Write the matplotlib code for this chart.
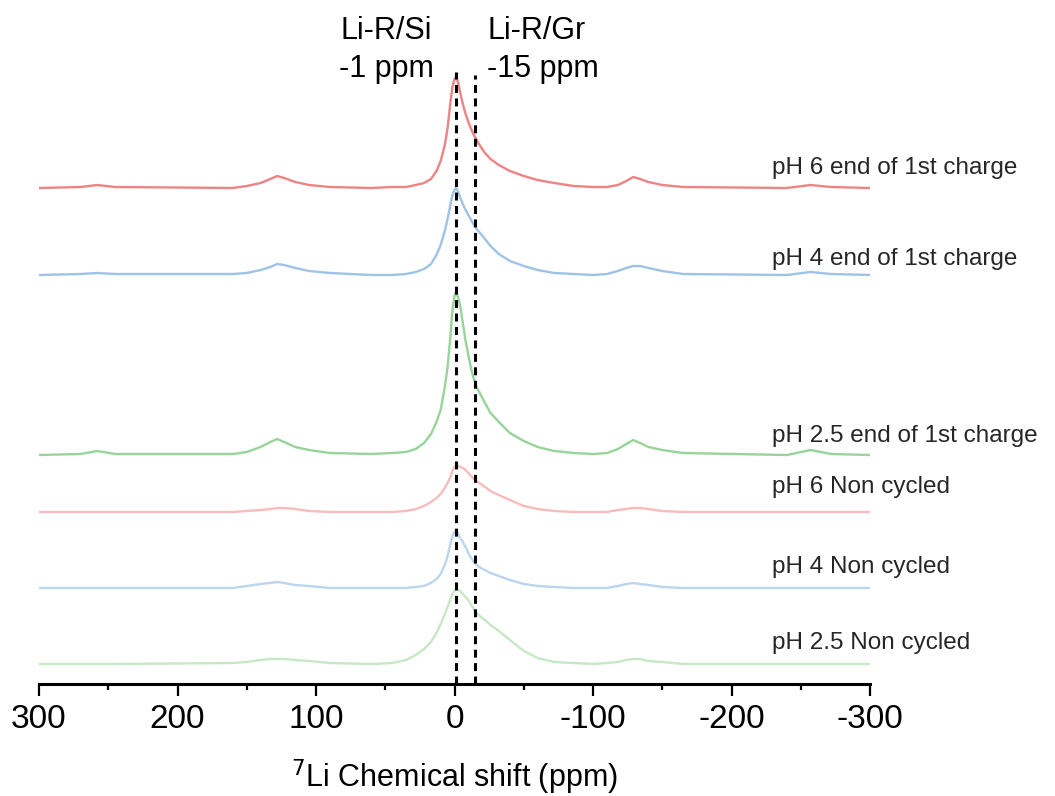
import numpy as np
import matplotlib.pyplot as plt

# ---- data (intensity in arbitrary units above each baseline) ----
ppm = [300, 270, 258, 245, 160, 150, 140, 133, 128, 123, 115, 105, 90,
       60, 45, 35, 28, 22, 17, 13, 10, 7, 5, 3, 1.5, 0,
       -1, -2.5, -4, -6, -8, -10, -12, -14, -16, -19, -22, -26, -32, -40, -50, -60, -72, -86,
       -100, -110, -118, -124, -129, -134, -140, -150, -165, -240, -257, -272, -300]

ph6_charge = [0, 1, 3, 1, 0, 2, 5, 9, 12, 10, 6, 3, 1,
              0, 1, 1, 3, 5, 9, 17, 27, 43, 60, 85, 101, 109,
              111, 106, 96, 84, 74, 66, 59, 53, 48, 41, 35, 29, 23, 17, 12, 8, 5, 2,
              1, 1, 3, 7, 11, 9, 6, 3, 1, 0, 3, 1, 0]
ph4_charge = [0, 1, 2, 1, 1, 2, 5, 8, 11, 10, 7, 4, 2,
              0, 0, 1, 3, 6, 11, 20, 30, 44, 56, 70, 80, 85,
              87, 84, 78, 71, 65, 60, 55, 50, 46, 41, 36, 29, 21, 14, 9, 5, 2, 1,
              0, 1, 4, 7, 9, 9, 7, 4, 1, 0, 3, 1, 0]
ph25_charge = [0, 1, 4, 1, 1, 3, 8, 13, 16, 13, 8, 5, 2,
               1, 2, 3, 6, 12, 21, 33, 45, 68, 88, 118, 145, 159,
               163, 158, 150, 132, 114, 100, 86, 76, 68, 60, 52, 42, 33, 22, 14, 8, 4, 2,
               1, 2, 6, 11, 15, 12, 8, 5, 2, 0, 5, 1, 0]
ph6_pristine = [0, 0, 0, 0, 0, 1, 2, 3, 4, 4, 3, 1, 0,
                0, 0, 1, 3, 6, 10, 14, 18, 24, 29, 35, 41, 45,
                46, 46, 45, 44, 42, 39, 36, 33, 31, 28, 25, 21, 17, 12, 6, 3, 1, 0,
                0, 0, 2, 3, 4, 4, 3, 1, 0, 0, 0, 0, 0]
ph4_pristine = [0, 0, 0, 0, 0, 2, 4, 5, 6, 5, 3, 2, 0,
                0, 0, 0, 1, 2, 5, 9, 14, 23, 32, 44, 52, 56,
                58, 55, 50, 46, 41, 35, 30, 26, 23, 20, 18, 15, 12, 8, 4, 2, 1, 0,
                0, 0, 2, 4, 5, 4, 3, 1, 0, 0, 0, 0, 0]
ph25_pristine = [0, 0, 0, 0, 1, 2, 4, 5, 5, 5, 4, 3, 1,
                 0, 1, 4, 9, 15, 22, 31, 40, 50, 57, 65, 70, 73,
                 75, 74, 73, 70, 67, 64, 59, 55, 51, 47, 44, 39, 33, 24, 13, 6, 2, 1,
                 0, 1, 2, 4, 5, 5, 3, 2, 0, 0, 0, 0, 0]

spectra = [ph6_charge, ph4_charge, ph25_charge, ph6_pristine, ph4_pristine, ph25_pristine]
offsets = [496, 409, 229, 172, 96, 20]
labels = ['pH 6 end of 1st charge', 'pH 4 end of 1st charge', 'pH 2.5 end of 1st charge',
          'pH 6 Non cycled', 'pH 4 Non cycled', 'pH 2.5 Non cycled']
colors = ['#ef8383', '#9fc3e6', '#98d49a', '#f8bcbc', '#bcd5ee', '#c6e8c4']
label_y = [174, 265, 442, 493, 573, 649]   # baseline of each label, px from top

ref_ppm = [-1, -15]
ref_top = [612, 609]

plt.rcParams['font.family'] = ['Liberation Sans', 'DejaVu Sans']
plt.rcParams['axes.unicode_minus'] = False

W, H = 1055, 796
fig = plt.figure(figsize=(W / 100, H / 100), dpi=100)
ax = fig.add_axes([39 / W, (H - 684) / H, (870 - 39) / W, 624 / H])

for spec, off, col in zip(spectra, offsets, colors):
    ax.plot(ppm, np.array(spec) + off, color=col, lw=1.7, solid_joinstyle='round')

ax.vlines(ref_ppm, 0, ref_top, colors='black', linestyles=(0, (2.6, 1.8)), lw=2.2)

ax.set_xlim(300, -300)
ax.set_ylim(0, 624)
for s in ['left', 'right', 'top']:
    ax.spines[s].set_visible(False)
ax.spines['bottom'].set_linewidth(2.2)
ax.set_yticks([])
ax.set_xticks([300, 200, 100, 0, -100, -200, -300])
ax.set_xticks([250, 150, 50, -50, -150, -250], minor=True)
ax.tick_params(axis='x', which='major', direction='out', length=8.5, width=1.6,
               labelsize=24, pad=6)
ax.tick_params(axis='x', which='minor', direction='out', length=4.3, width=1.6)
ax.set_xlabel(r'$^{7}$Li Chemical shift (ppm)', fontsize=22, labelpad=16)

for lab, yb in zip(labels, label_y):
    fig.text(772 / W, 1 - yb / H, lab, fontsize=17.5, color='#262626',
             ha='left', va='baseline')

fig.text(386 / W, 1 - 39 / H, 'Li-R/Si', fontsize=22, ha='center', va='baseline')
fig.text(386 / W, 1 - 77 / H, '-1 ppm', fontsize=22, ha='center', va='baseline')
fig.text(487 / W, 1 - 39 / H, 'Li-R/Gr', fontsize=22, ha='left', va='baseline')
fig.text(487 / W, 1 - 77 / H, '-15 ppm', fontsize=22, ha='left', va='baseline')

fig.savefig('out.png', dpi=100)
